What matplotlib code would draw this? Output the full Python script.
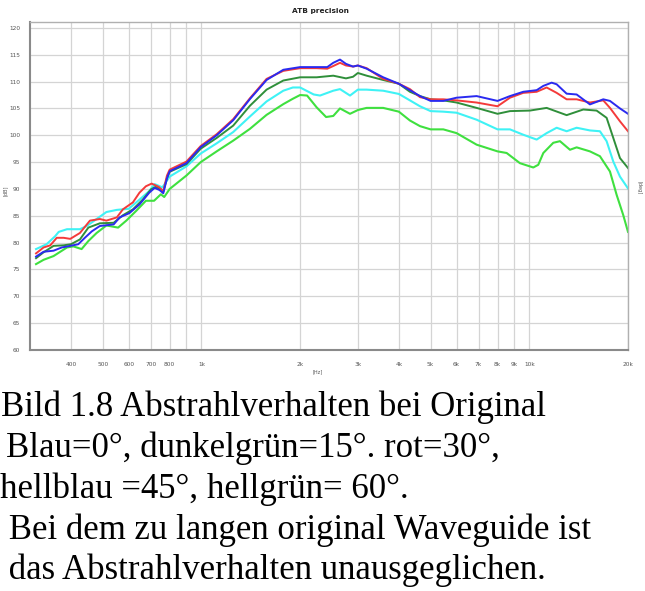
import numpy as np
import matplotlib.pyplot as plt
from matplotlib.ticker import FixedLocator, NullLocator

# Frequenzgaenge -- f in Hz, Pegel in dB
f_blau = [313, 330, 354, 375, 398, 421, 441, 463, 490, 540, 563, 603, 647, 693, 720, 745, 765, 785, 800, 900,
          995, 1113, 1250, 1406, 1580, 1777, 2000, 2246, 2420, 2524, 2646, 2760, 2900, 3000, 3191, 3584, 4000,
          4324, 4641, 5000, 5466, 6000, 6907, 8000, 8730, 9585, 10530, 11035, 11698, 12118, 12998, 13943,
          15308, 16811, 17620, 18903, 20000]
db_blau = [77.4, 78.3, 78.5, 79.1, 79.4, 79.7, 80.9, 82.1, 83.1, 83.4, 84.7, 85.5, 87.1, 89.3, 90.2, 89.8, 89.2,
           92.0, 93.3, 94.8, 97.8, 100.0, 102.8, 106.75, 110.3, 112.2, 112.7, 112.7, 112.7, 113.5, 114.1, 113.3,
           112.8, 113.0, 112.4, 110.8, 109.6, 108.4, 107.3, 106.4, 106.4, 107.0, 107.3, 106.4, 107.3, 108.1,
           108.4, 109.2, 109.8, 109.5, 107.75, 107.6, 105.75, 106.7, 106.4, 105.0, 104.0]

f_rot = [313, 330, 346, 362, 380, 398, 426, 457, 490, 513, 552, 576, 618, 647, 677, 705, 740, 765, 785, 800, 900,
         995, 1113, 1250, 1406, 1580, 1777, 2000, 2246, 2420, 2524, 2646, 2760, 2900, 3000, 3191, 3584, 4000,
         4324, 4641, 5000, 5466, 6000, 6907, 8000, 8730, 9585, 10530, 11296, 12118, 12998, 13943, 15308,
         16811, 17620, 18903, 20000]
db_rot = [78.0, 79.1, 79.5, 80.9, 80.9, 80.7, 81.8, 84.1, 84.4, 84.1, 84.7, 86.2, 87.5, 89.3, 90.5, 91.0, 90.4,
          89.6, 92.5, 93.6, 95.1, 98.0, 100.2, 103.0, 106.9, 110.5, 112.0, 112.5, 112.5, 112.4, 112.9, 113.5,
          113.0, 112.8, 113.0, 112.5, 110.5, 109.6, 108.6, 107.1, 106.7, 106.7, 106.5, 106.1, 105.4, 107.0,
          107.9, 108.1, 108.9, 107.9, 106.7, 106.7, 106.1, 106.5, 105.1, 102.6, 100.75]

f_dgruen = [313, 330, 354, 380, 400, 426, 452, 490, 540, 576, 618, 662, 701, 725, 750, 765, 785, 800, 900, 995,
            1113, 1250, 1406, 1580, 1777, 2000, 2246, 2524, 2760, 2900, 3000, 3191, 3584, 4000, 4324, 4641,
            5000, 5466, 6000, 6907, 8000, 8730, 10045, 11296, 12998, 14610, 16040, 17211, 18037, 18903, 20000]
db_dgruen = [77.1, 78.2, 79.4, 79.5, 79.7, 80.6, 82.8, 83.6, 83.7, 85.1, 86.2, 88.0, 89.9, 90.4, 90.0, 89.5,
             92.0, 93.2, 94.6, 97.5, 99.5, 101.8, 105.5, 108.5, 110.2, 110.8, 110.8, 111.1, 110.6, 110.9, 111.6,
             111.1, 110.3, 109.6, 108.1, 107.3, 106.7, 106.5, 106.1, 105.1, 104.0, 104.5, 104.6, 105.1, 103.75,
             104.8, 104.6, 103.25, 99.5, 95.75, 93.9]

f_hblau = [313, 337, 358, 367, 389, 426, 447, 479, 513, 552, 600, 647, 693, 720, 760, 800, 900, 995, 1113, 1250,
           1406, 1580, 1777, 1900, 2000, 2200, 2300, 2524, 2646, 2839, 3000, 3191, 3584, 4000, 4324, 4641, 5000,
           5466, 6000, 6907, 8000, 8730, 9585, 10530, 11296, 12118, 12998, 13943, 15308, 16421, 17211, 18037,
           18903, 20000]
db_hblau = [78.8, 79.7, 81.2, 82.0, 82.5, 82.5, 83.1, 84.4, 85.7, 86.1, 86.3, 88.0, 89.6, 90.9, 90.3, 92.3, 94.2,
            96.6, 98.5, 100.6, 103.5, 106.3, 108.3, 108.9, 108.9, 107.6, 107.4, 108.3, 108.6, 107.4, 108.5,
            108.5, 108.3, 107.7, 106.5, 105.4, 104.5, 104.4, 104.2, 102.9, 101.1, 101.1, 100.1, 99.2, 100.4,
            101.4, 100.75, 101.4, 100.9, 100.75, 98.9, 95.1, 92.3, 90.1]

f_hgruen = [313, 330, 354, 389, 407, 431, 452, 479, 513, 557, 590, 632, 677, 717, 752, 770, 800, 900, 995, 1113,
            1250, 1406, 1580, 1777, 1900, 2000, 2100, 2246, 2400, 2524, 2646, 2839, 3000, 3191, 3584, 4000, 4324,
            4641, 5000, 5466, 6000, 6907, 8000, 8529, 9365, 10284, 10650, 11035, 11834, 12403, 13307, 13943,
            15308, 16421, 17620, 18466, 19350, 20000]
db_hgruen = [76.0, 76.8, 77.5, 79.1, 79.3, 78.8, 80.3, 81.8, 83.2, 82.8, 84.1, 85.9, 87.8, 87.8, 89.0, 88.5, 90.0,
             92.5, 95.0, 97.0, 99.0, 101.2, 103.8, 105.8, 106.8, 107.5, 107.4, 105.2, 103.4, 103.6, 105.0, 104.0,
             104.7, 105.1, 105.1, 104.4, 102.75, 101.7, 101.1, 101.1, 100.4, 98.25, 97.0, 96.7, 94.8, 94.0, 94.5,
             96.7, 98.6, 98.9, 97.3, 97.75, 97.0, 96.1, 93.25, 88.9, 85.1, 82.0]

x_ticks = [400, 500, 600, 700, 800, 900, 1000, 2000, 3000, 4000, 5000, 6000, 7000, 8000, 9000, 10000, 20000]
x_labels = ['400', '500', '600', '700', '800', '', '1k', '2k', '3k', '4k', '5k', '6k', '7k', '8k', '9k', '10k', '20k']
y_ticks = list(range(60, 121, 5))

caption = [
    "Bild 1.8 Abstrahlverhalten bei Original",
    "Blau=0°, dunkelgrün=15°. rot=30°,",
    "hellblau =45°, hellgrün= 60°.",
    " Bei dem zu langen original Waveguide ist",
    " das Abstrahlverhalten unausgeglichen.",
]

fig = plt.figure(figsize=(6.45, 5.91), dpi=100)
ax = fig.add_axes([30 / 645, 1 - 350 / 591, 598 / 645, 328 / 591])

# Reihenfolge: hellgruen unten, blau oben
ax.plot(f_hgruen, db_hgruen, color='#3fe03f', lw=1.5)
ax.plot(f_hblau, db_hblau, color='#3ff2f5', lw=1.5)
ax.plot(f_dgruen, db_dgruen, color='#2f8f3a', lw=1.4)
ax.plot(f_rot, db_rot, color='#f43a3a', lw=1.4)
ax.plot(f_blau, db_blau, color='#2a2af0', lw=1.4)

ax.set_xscale('log')
ax.set_xlim(300, 20000)
ax.set_ylim(60, 121.1)
ax.xaxis.set_major_locator(FixedLocator(x_ticks))
ax.xaxis.set_minor_locator(NullLocator())
ax.set_xticklabels(x_labels)
ax.set_yticks(y_ticks)
ax.grid(True, color='#d4d4d4', lw=0.9)
ax.tick_params(length=0, labelsize=4.2, colors='#555555')
ax.tick_params(axis='x', pad=9)
ax.tick_params(axis='y', pad=7)
for s in ax.spines.values():
    s.set_color('#b0b0b0')
    s.set_linewidth(1.0)
ax.spines['left'].set_color('#8a8a8a')
ax.spines['left'].set_linewidth(1.5)
ax.spines['bottom'].set_color('#8a8a8a')
ax.spines['bottom'].set_linewidth(1.5)

fig.text(320 / 645, 1 - 11 / 591, "ATB precision", ha='center', va='center', fontsize=5.3,
         fontweight='bold', color='#222222')
fig.text(318 / 645, 1 - 372 / 591, "[Hz]", ha='center', va='center', fontsize=3.6, color='#555555')
fig.text(5 / 645, 1 - 191 / 591, "[dB]", ha='center', va='center', fontsize=3.6, color='#555555',
         rotation=90)
fig.text(639 / 645, 1 - 188 / 591, "[deg]", ha='center', va='center', fontsize=3.6, color='#555555',
         rotation=270)

x_pos = [1, 6, 0, 0, 0]
y_base = [416, 457, 498, 539, 579]
for txt, xp, yb in zip(caption, x_pos, y_base):
    fig.text(xp / 645, 1 - yb / 591, txt, ha='left', va='baseline', fontsize=25,
             family='Liberation Serif', color='black')

fig.savefig('out.png', dpi=100)
